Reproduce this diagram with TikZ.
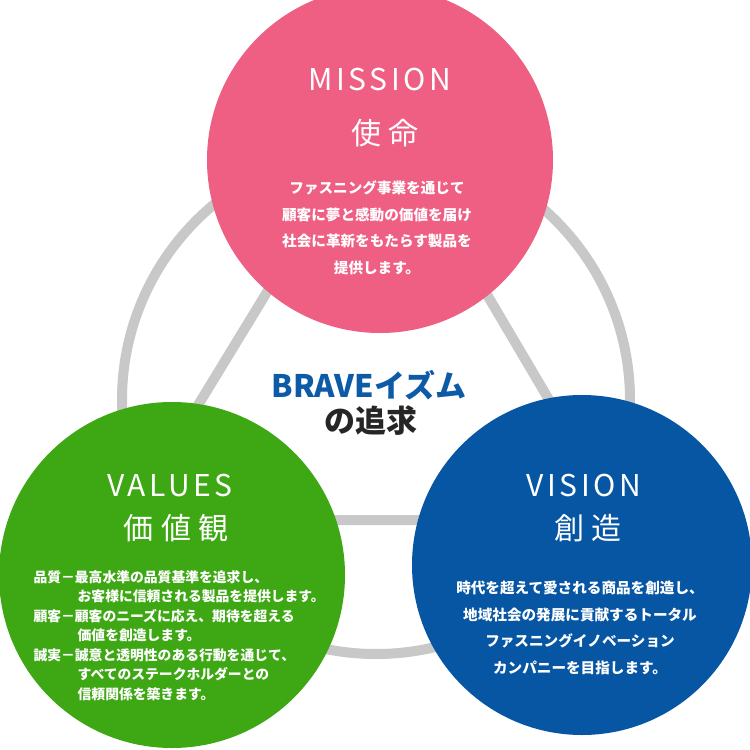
\documentclass[tikz,border=0pt]{standalone}
\usepackage{fontspec}
\setmainfont{Noto Sans CJK JP}
\definecolor{pinkc}{HTML}{EF5F83}
\definecolor{greenc}{HTML}{3EA814}
\definecolor{bluec}{HTML}{0756A4}
\definecolor{ringc}{HTML}{C8C8C8}
\definecolor{navy}{HTML}{0D5AA7}
\tikzset{
 circ/.style={circle,minimum size=346pt,inner sep=0pt},
 title/.style={text=white,font=\fontsize{30}{32}\selectfont\addfontfeatures{LetterSpace=12}},
 kanji/.style={text=white,font=\fontsize{30}{34}\selectfont\addfontfeatures{LetterSpace=25}},
 body/.style={text=white,font=\bfseries\fontsize{14.6}{26.5}\selectfont,align=center},
 lst/.style={text=white,font=\bfseries\fontsize{13.8}{19.5}\selectfont,anchor=north west,align=left}
}
\begin{document}
\begin{tikzpicture}[x=1pt,y=-1pt]
\useasboundingbox (0,0) rectangle (750,750);
\begin{scope}
\clip (0,0) rectangle (750,750);
\coordinate (pc) at (380,160);
\coordinate (gc) at (172,575);
\coordinate (bc) at (582,565);
\coordinate (rc) at (376,400);
\coordinate (t1) at (378,110);
\coordinate (t2) at (128,520);
\coordinate (t3) at (620,520);
\draw[ringc,line width=10pt] (rc) circle[radius=254];
\draw[ringc,line width=10pt] (t1) -- (t2) -- (t3) -- cycle;
\node[circ,fill=pinkc] (pink) at (pc) {};
\node[circ,fill=greenc] (green) at (gc) {};
\node[circ,fill=bluec,minimum size=340pt] (blue) at (bc) {};
\end{scope}
\node[title] (mt) at (380,80) {MISSION};
\node[kanji] (mk) at (385,133) {使命};
\node[body] (mb) at (377,228) {ファスニング事業を通じて\\顧客に夢と感動の価値を届け\\社会に革新をもたらす製品を\\提供します。};
\node[font=\bfseries\fontsize{31}{34}\selectfont,text=navy] (br) at (369,385) {BRAVEイズム};
\node[font=\bfseries\fontsize{31}{34}\selectfont,text=black!85] (tq) at (371,421) {の追求};
\node[title] (vt) at (170,485) {VALUES};
\node[kanji] (vk) at (176,528) {価値観};
\node[lst] (vl) at (30,567) {品質－最高水準の品質基準を追求し、\\\hspace{3.2em}お客様に信頼される製品を提供します。\\顧客－顧客のニーズに応え、期待を超える\\\hspace{3.2em}価値を創造します。\\誠実－誠意と透明性のある行動を通じて、\\\hspace{3.2em}すべてのステークホルダーとの\\\hspace{3.2em}信頼関係を築きます。};
\node[title] (st) at (584,485) {VISION};
\node[kanji] (sk) at (588,528) {創造};
\node[body] (sb) at (580,628) {時代を超えて愛される商品を創造し、\\地域社会の発展に貢献するトータル\\ファスニングイノベーション\\カンパニーを目指します。};
\end{tikzpicture}
\end{document}
